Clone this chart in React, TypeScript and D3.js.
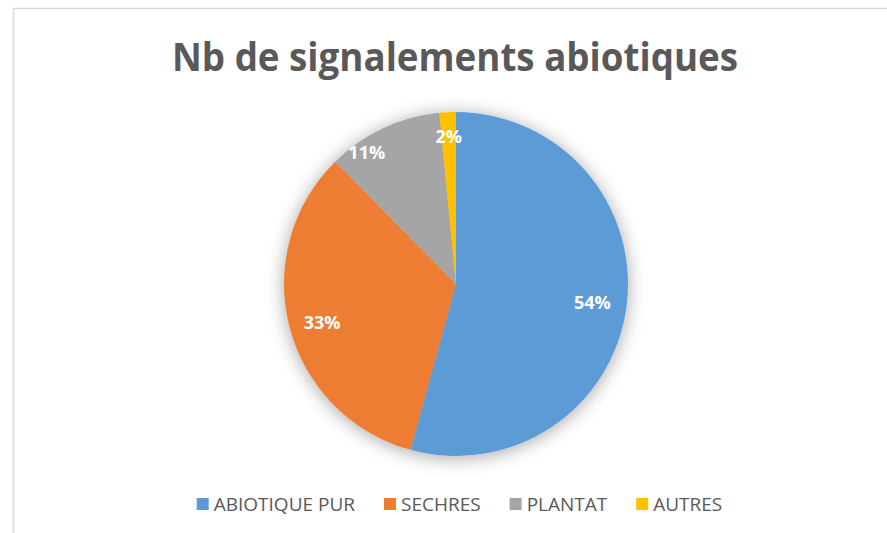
import React from "react";
import * as d3 from "d3";

const categories = ["ABIOTIQUE PUR", "SECHRES", "PLANTAT", "AUTRES"];
const counts = [70, 43, 14, 2];
const colors = ["#5B9BD5", "#ED7D31", "#A5A5A5", "#FFC000"];
const title = "Nb de signalements abiotiques";

// label placement styling (radius fraction, angle shift in degrees)
const labelStyle = [
  { r: 0.8, da: 0 },
  { r: 0.81, da: -1.5 },
  { r: 0.925, da: -9 },
  { r: 0.86, da: 0 },
];

const W = 887;
const H = 533;
const cx = 456;
const cy = 284;
const R = 172;
const FONT = "'Open Sans', 'Noto Sans', sans-serif";

function measure(text: string, font: string) {
  const c = document.createElement("canvas");
  const ctx = c.getContext("2d")!;
  ctx.font = font;
  return ctx.measureText(text).width;
}

export default function App() {
  const total = d3.sum(counts);
  const pie = d3
    .pie<number>()
    .sort(null)
    .value((d) => d)
    .startAngle(0)
    .endAngle(2 * Math.PI);
  const arcs = pie(counts);
  const arc = d3.arc<d3.PieArcDatum<number>>().innerRadius(0).outerRadius(R);

  // legend layout
  const legendFontSize = 19;
  const legendFont = `${legendFontSize}px 'Open Sans'`;
  const sq = 12;
  const sqGap = 5;
  const itemGap = 29;
  const widths = categories.map((c) => measure(c, legendFont));
  const itemW = widths.map((w) => sq + sqGap + w);
  const totalLegend = d3.sum(itemW) + itemGap * (categories.length - 1);
  const legendCenter = 459.5;
  let lx = legendCenter - totalLegend / 2;
  const legendX = itemW.map((w) => {
    const x = lx;
    lx += w + itemGap;
    return x;
  });

  const fmt = d3.format(".0%");

  return (
    <svg
      width={W}
      height={H}
      style={{ position: "fixed", left: 0, top: 0, background: "#fff" }}
    >
      <defs>
        <filter id="glow" x="-30%" y="-30%" width="160%" height="160%">
          <feDropShadow dx="0" dy="2" stdDeviation="9" floodColor="#000" floodOpacity="0.35" />
        </filter>
      </defs>
      <rect x={0} y={0} width={W} height={H} fill="#fff" />
      <path
        d={`M${W},8.5 H13.5 V${H}`}
        fill="none"
        stroke="#d9d9d9"
        strokeWidth={1.5}
      />
      <text
        x={455}
        y={71}
        textAnchor="middle"
        fontFamily={FONT}
        fontWeight="bold"
        fontSize={39}
        fill="#595959"
        textLength={566}
        lengthAdjust="spacingAndGlyphs"
      >
        {title}
      </text>
      <g transform={`translate(${cx},${cy})`}>
        <g filter="url(#glow)">
          {arcs.map((a, i) => (
            <path key={i} d={arc(a) || ""} fill={colors[i]} />
          ))}
        </g>
        {arcs.map((a, i) => {
          const mid = (a.startAngle + a.endAngle) / 2 + (labelStyle[i].da * Math.PI) / 180;
          const r = R * labelStyle[i].r;
          const x = r * Math.sin(mid);
          const y = -r * Math.cos(mid);
          return (
            <text
              key={i}
              x={x}
              y={y}
              dy="0.35em"
              textAnchor="middle"
              fontFamily={FONT}
              fontWeight="bold"
              fontSize={18}
              fill="#fff"
            >
              {fmt(a.data / total)}
            </text>
          );
        })}
      </g>
      <g>
        {categories.map((c, i) => (
          <g key={c} transform={`translate(${legendX[i]},0)`}>
            <rect x={0} y={498} width={sq} height={sq} fill={colors[i]} />
            <text
              x={sq + sqGap}
              y={510.5}
              fontFamily={FONT}
              fontSize={legendFontSize}
              fill="#595959"
            >
              {c}
            </text>
          </g>
        ))}
      </g>
    </svg>
  );
}
